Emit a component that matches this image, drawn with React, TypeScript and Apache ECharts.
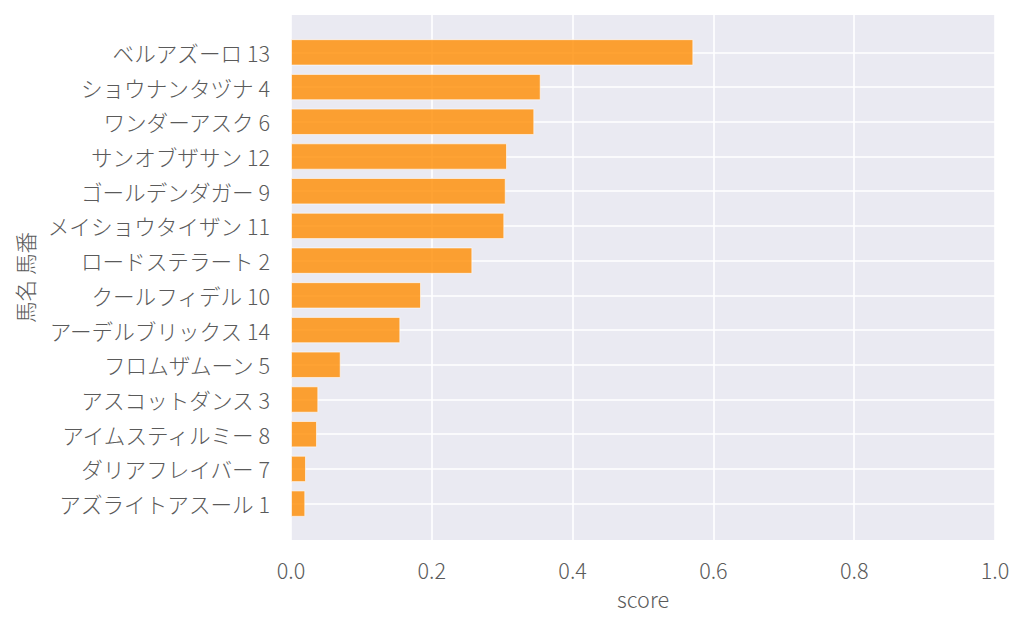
import React, { useEffect, useRef } from "react";
import * as echarts from "echarts";

const horseNames: string[] = [
  "ベルアズーロ 13",
  "ショウナンタヅナ 4",
  "ワンダーアスク 6",
  "サンオブザサン 12",
  "ゴールデンダガー 9",
  "メイショウタイザン 11",
  "ロードステラート 2",
  "クールフィデル 10",
  "アーデルブリックス 14",
  "フロムザムーン 5",
  "アスコットダンス 3",
  "アイムスティルミー 8",
  "ダリアフレイバー 7",
  "アズライトアスール 1",
];

const scores: number[] = [
  0.5715, 0.3547, 0.3456, 0.3068, 0.305, 0.303, 0.2576, 0.1847, 0.1553,
  0.0706, 0.0388, 0.0369, 0.0213, 0.0203,
];

const xTicks: number[] = [0, 0.2, 0.4, 0.6, 0.8, 1.0];

const FONT = "'Noto Sans CJK JP', 'Noto Sans', sans-serif";
const TEXT = "#5a5a5a";
const WEIGHT = 300;
const FS = 21.6;

export default function App() {
  const ref = useRef<HTMLDivElement>(null);
  useEffect(() => {
    if (!ref.current) return;
    const chart = echarts.init(ref.current, undefined, { renderer: "svg" });
    chart.setOption({
      animation: false,
      textStyle: { fontFamily: FONT },
      grid: [
        {
          left: 291,
          right: 29,
          top: 35,
          height: 486,
          containLabel: false,
        },
        {
          left: 291,
          right: 29,
          top: 15,
          bottom: 91,
          show: true,
          backgroundColor: "#eaeaf2",
          borderWidth: 0,
          z: 0,
        },
      ],
      xAxis: [
        {
          gridIndex: 0,
          type: "value",
          min: 0,
          max: 1,
          show: false,
        },
        {
          gridIndex: 1,
          type: "value",
          min: 0,
          max: 1,
          interval: 0.2,
          axisLine: { show: false },
          axisTick: { show: false },
          splitLine: { show: true, lineStyle: { color: "#ffffff", width: 1.6 } },
          axisLabel: {
            color: TEXT,
            fontSize: FS,
            fontWeight: WEIGHT,
            fontFamily: FONT,
            margin: 19,
            formatter: (v: number) =>
              xTicks.some((t) => Math.abs(t - v) < 1e-9) ? v.toFixed(1) : "",
          },
          name: "score",
          nameLocation: "middle",
          nameGap: 48,
          nameTextStyle: { color: TEXT, fontSize: FS, fontWeight: WEIGHT, fontFamily: FONT },
        },
      ],
      yAxis: [
        {
          gridIndex: 0,
          type: "category",
          inverse: true,
          data: horseNames,
          axisLine: { show: false },
          axisTick: { show: false },
          splitLine: {
            show: true,
            alignWithLabel: true,
            lineStyle: { color: "#ffffff", width: 1.6 },
          },
          axisLabel: {
            color: TEXT,
            fontSize: FS,
            fontWeight: WEIGHT,
            fontFamily: FONT,
            margin: 21,
          },
        },
        {
          gridIndex: 1,
          type: "value",
          min: 0,
          max: 1,
          axisLine: { show: false },
          axisTick: { show: false },
          axisLabel: { show: false },
          splitLine: { show: false },
          name: "馬名 馬番",
          nameLocation: "middle",
          nameRotate: 90,
          nameGap: 256,
          nameTextStyle: { color: TEXT, fontSize: FS, fontWeight: WEIGHT, fontFamily: FONT },
        },
      ],
      series: [
        {
          type: "bar",
          xAxisIndex: 0,
          yAxisIndex: 0,
          data: scores,
          barWidth: "76%",
          itemStyle: {
            color: "rgba(255,140,0,0.8)",
            borderColor: "rgba(255,255,255,0.6)",
            borderWidth: 1,
          },
          z: 3,
        },
      ],
    });
    return () => chart.dispose();
  }, []);
  return <div ref={ref} style={{ width: 1024, height: 631, position: "absolute", left: 0, top: 0 }} />;
}
